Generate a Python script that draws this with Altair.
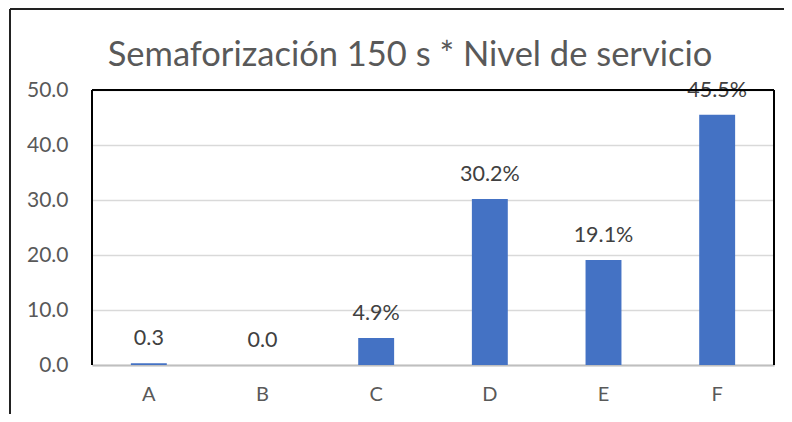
import altair as alt
import pandas as pd

categories = ["A", "B", "C", "D", "E", "F"]
values = [0.3, 0.0, 4.9, 30.2, 19.1, 45.5]
labels = ["0.3", "0.0", "4.9%", "30.2%", "19.1%", "45.5%"]
y_ticks = [0, 10, 20, 30, 40, 50]
title_text = "Semaforización 150 s * Nivel de servicio"

df = pd.DataFrame({"cat": categories, "val": values, "lab": labels})

W, H = 682, 275
FONT = "Lato"

x_enc = alt.X("cat:N", sort=categories,
              scale=alt.Scale(paddingInner=0.684, paddingOuter=0.342),
              axis=alt.Axis(title=None, labelAngle=0, ticks=False, labelPadding=19,
                            labelFontSize=20, labelColor="#595959", labelFont=FONT,
                            domainColor="#bfbfbf", domainWidth=2, grid=False))
y_enc = alt.Y("val:Q", scale=alt.Scale(domain=[0, 50], nice=False),
              axis=alt.Axis(title=None, values=y_ticks, format=".1f", ticks=False,
                            domain=False, labelPadding=24, labelFontSize=21,
                            labelColor="#595959", labelFont=FONT,
                            gridColor="#d9d9d9", gridWidth=1.5))

bars = alt.Chart(df).mark_bar(color="#4472C4").encode(x=x_enc, y=y_enc)
text = alt.Chart(df).mark_text(baseline="alphabetic", dy=-18, fontSize=21.5,
                               color="#404040", font=FONT).encode(
    x=alt.X("cat:N", sort=categories), y="val:Q", text="lab:N")

frame_top = alt.Chart(df).mark_rule(color="black", strokeWidth=2).encode(
    x=alt.value(0), x2=alt.value(W), y=alt.value(0))
frame_left = alt.Chart(df).mark_rule(color="black", strokeWidth=2).encode(
    x=alt.value(0), y=alt.value(0), y2=alt.value(H))
frame_right = alt.Chart(df).mark_rule(color="black", strokeWidth=2).encode(
    x=alt.value(W), y=alt.value(0), y2=alt.value(H))
outer_top = alt.Chart(df).mark_rule(color="#222222", strokeWidth=2).encode(
    x=alt.value(-82), x2=alt.value(W + 20), y=alt.value(-81))
outer_left = alt.Chart(df).mark_rule(color="#222222", strokeWidth=2).encode(
    x=alt.value(-82), y=alt.value(-81), y2=alt.value(H + 60))

chart = alt.layer(bars, text, frame_top, frame_left, frame_right, outer_top, outer_left).properties(
    width=W, height=H,
    title=alt.TitleParams(title_text, fontSize=34.5, font=FONT, color="#595959",
                          fontWeight="normal", anchor="middle", dx=-23, offset=-65),
    autosize=alt.AutoSizeParams(type="none"),
    padding={"left": 84, "top": 82, "right": 10, "bottom": 49},
).configure_view(stroke=None)

chart.save("out.html", embed_options={"renderer": "svg", "actions": False})
